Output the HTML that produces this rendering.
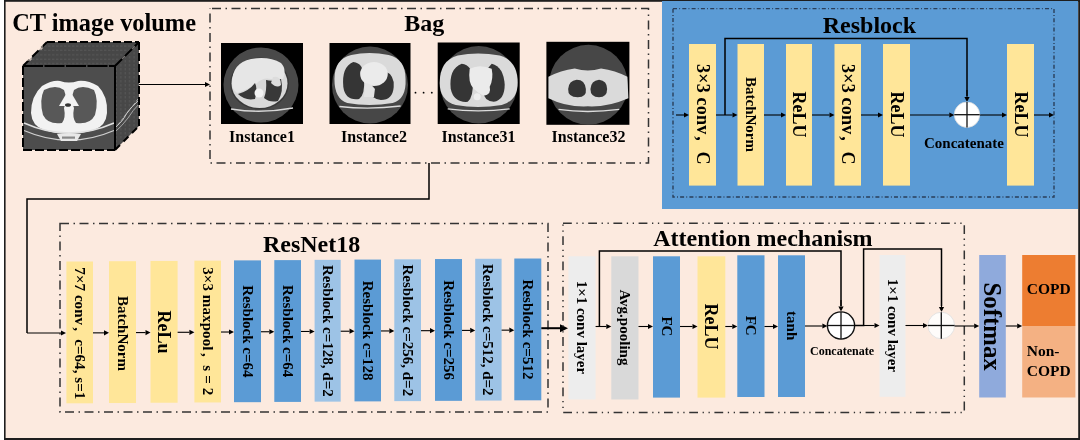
<!DOCTYPE html>
<html><head><meta charset="utf-8"><style>
html,body{margin:0;padding:0;background:#fff;width:1080px;height:440px;overflow:hidden;}
svg{display:block;will-change:transform;}
text{font-family:"Liberation Serif", serif;font-weight:bold;}
</style></head><body>
<svg width="1080" height="440" viewBox="0 0 1080 440" font-family='"Liberation Serif", serif' font-weight="bold">
<defs>
<filter id="soft" x="-5%" y="-5%" width="110%" height="110%"><feGaussianBlur stdDeviation="0.55"/></filter>
<pattern id="dots" width="4" height="4.4" patternUnits="userSpaceOnUse"><rect width="4" height="4.4" fill="#474747"/><rect x="0" y="1.5" width="2.4" height="1" fill="#575757"/></pattern>
<pattern id="dots2" width="4.4" height="4" patternUnits="userSpaceOnUse"><rect width="4.4" height="4" fill="#474747"/><rect x="1.5" y="0" width="1" height="2.4" fill="#575757"/></pattern>
</defs>
<rect x="0" y="0" width="1080.00" height="440.00" fill="#ffffff" />
<rect x="4" y="0" width="1076.00" height="440.00" fill="#1e1e1e" />
<rect x="5.6" y="1.8" width="1072.60" height="436.20" fill="#FCEADF" />
<text x="12.2" y="31.4" font-size="24.4" text-anchor="start" fill="#000" >CT image volume</text>
<polygon points="23,66 47,42 139,42 115,66" fill="url(#dots)"/>
<polygon points="115,66 139,42 139,126 115,150" fill="url(#dots2)"/>
<rect x="23" y="66" width="92.00" height="84.00" fill="#4d4d4d" />
<path d="M31,113 Q31,96 42,86 Q52,80 60,81 Q69,84 78,81 Q88,80 98,86 Q108,96 107,113 Q106,126 94,130 Q80,134 69,134 Q56,134 44,130 Q32,126 31,113 Z" fill="#f2f2f2"/>
<path d="M44,90 Q56,84 64,90 Q68,100 64,108 Q66,118 62,123 Q48,125 43,115 Q39,100 44,90 Z" fill="#585858"/>
<path d="M94,90 Q82,84 74,90 Q70,100 74,108 Q72,118 76,123 Q90,125 95,115 Q99,100 94,90 Z" fill="#585858"/>
<path d="M69,89 L79,106 L59,106 Z" fill="#f2f2f2"/>
<ellipse cx="68" cy="105" rx="3" ry="1.8" fill="#333"/>
<path d="M24,123 Q69,143 114,123" stroke="#e0e0e0" stroke-width="1.6" fill="none"/>
<path d="M24,130.5 Q69,150 114,130.5" stroke="#cfcfcf" stroke-width="1.3" fill="none"/>
<path d="M57,134 L81,134 L77,141 L61,141 Z" fill="#e8e8e8"/>
<rect x="62" y="136.5" width="13" height="2.2" fill="#888"/>
<path d="M115,128 Q124,120 127,113 Q131,107 139,100" stroke="#d8d8d8" stroke-width="0.9" fill="none"/>
<path d="M115,132 Q122,126 128,118 Q133,110 139,104" stroke="#bdbdbd" stroke-width="0.8" fill="none"/>
<path d="M118,125 Q126,114 131,108 Q135,104 139,97" stroke="#cfcfcf" stroke-width="0.8" fill="none" stroke-dasharray="3 2"/>
<line x1="47" y1="42" x2="139" y2="42" stroke="#000" stroke-width="2" stroke-dasharray="8 3"/>
<line x1="139" y1="42" x2="139" y2="126" stroke="#000" stroke-width="2" stroke-dasharray="8 3"/>
<line x1="23" y1="66" x2="47" y2="42" stroke="#000" stroke-width="2" stroke-dasharray="9 4"/>
<polyline points="27,60 31,60 31,56" fill="none" stroke="#fbe9dc" stroke-width="0.9"/>
<polyline points="38,49 42,49 42,45" fill="none" stroke="#fbe9dc" stroke-width="0.9"/>
<line x1="115" y1="150" x2="139" y2="126" stroke="#000" stroke-width="2" stroke-dasharray="7 5"/>
<line x1="115" y1="66" x2="139" y2="42" stroke="#000" stroke-width="2" stroke-dasharray="10 4"/>
<line x1="23" y1="66" x2="115" y2="66" stroke="#000" stroke-width="2.2" stroke-dasharray="20 1.5"/>
<line x1="23" y1="66" x2="23" y2="150" stroke="#000" stroke-width="2" stroke-dasharray="9 3"/>
<line x1="23" y1="150" x2="115" y2="150" stroke="#000" stroke-width="2" stroke-dasharray="9 3"/>
<line x1="115" y1="66" x2="115" y2="150" stroke="#000" stroke-width="2"/>
<line x1="139" y1="84.5" x2="205.00" y2="84.50" stroke="#000" stroke-width="1.1"/>
<polygon points="210,84.5 205.00,87.10 205.00,81.90" fill="#000"/>
<rect x="210" y="8.5" width="438.50" height="154.50" fill="none" stroke="#333333" stroke-width="1.5" stroke-dasharray="9 4.5 1.5 4.5" stroke-dashoffset="17.5"/>
<text x="424.3" y="31.3" font-size="24" text-anchor="middle" fill="#000" >Bag</text>
<g transform="translate(221,43) scale(1.0000,1.0000)">
<rect x="0" y="0" width="82" height="81" fill="#000"/>
<g filter="url(#soft)">
<circle cx="40" cy="42" r="37.5" fill="#4a4a4a"/>
<ellipse cx="38.5" cy="40.5" rx="29.5" ry="26" fill="#393939"/>
<ellipse cx="38.5" cy="40.5" rx="28" ry="24.5" fill="#d8d8d8"/>
<path d="M11,40 Q11,20 30,16 Q48,13 60,20 Q66,26 62,36 L50,36 Q42,34 36,40 Q28,46 16,50 Q11,46 11,40 Z" fill="#e6e6e6"/>
<path d="M17,51 Q28,48 34,40 Q37,46 34,56 Q24,58 17,51 Z" fill="#383838"/>
<path d="M45,37 Q52,39 60,36 Q63,48 57,58 Q49,60 43,55 Q46,48 45,37 Z" fill="#383838"/>
<path d="M52,34 Q60,32 60,42 Q56,46 50,40 Z" fill="#dcdcdc"/>
<circle cx="38" cy="50" r="4.5" fill="#f2f2f2"/>
<path d="M10,66 Q40,71 72,65" stroke="#d8d8d8" stroke-width="1.3" fill="none"/>
</g></g>
<g transform="translate(329.5,43) scale(0.9878,1.0000)">
<rect x="0" y="0" width="82" height="81" fill="#000"/>
<g filter="url(#soft)">
<circle cx="41" cy="42" r="38.5" fill="#474747"/>
<path d="M5,36 Q5,16 22,12 Q40,8 60,12 Q77,16 77,36 Q78,56 64,60 Q40,64 18,60 Q5,56 5,36 Z" fill="#dadada"/>
<path d="M24,19 Q35,20 35,36 Q36,52 30,56 Q16,58 14,44 Q12,24 24,19 Z" fill="#353535"/>
<path d="M56,28 Q66,32 65,44 Q64,57 52,57 Q42,56 41,48 Q44,36 56,28 Z" fill="#353535"/>
<ellipse cx="45" cy="31" rx="14" ry="12" fill="#ebebeb"/>
<path d="M36,40 Q42,40 46,46 L45,54 L35,54 Z" fill="#e4e4e4"/>
<path d="M10,63.5 Q40,67 72,63" stroke="#dcdcdc" stroke-width="1.3" fill="none"/>
</g></g>
<g transform="translate(437.7,42.5) scale(1.0000,1.0062)">
<rect x="0" y="0" width="82" height="81" fill="#000"/>
<g filter="url(#soft)">
<circle cx="41" cy="42" r="38.5" fill="#474747"/>
<path d="M2,40 Q2,18 20,13 Q40,9 62,13 Q80,18 80,40 Q80,58 64,62 Q40,66 18,62 Q2,58 2,40 Z" fill="#dadada"/>
<path d="M24,21 Q35,22 35,38 Q36,54 30,59 Q16,60 13,46 Q11,26 24,21 Z" fill="#353535"/>
<path d="M54,21 Q66,24 67,42 Q67,57 56,59 Q46,58 45,48 Q44,30 54,21 Z" fill="#353535"/>
<path d="M32,26 Q42,21 54,26 Q56,36 52,44 Q54,52 46,53 Q40,50 36,46 Q30,40 32,26 Z" fill="#ebebeb"/>
<circle cx="39.5" cy="54" r="3.5" fill="#eeeeee"/>
<path d="M10,66 Q40,70 72,66" stroke="#dcdcdc" stroke-width="1.3" fill="none"/>
</g></g>
<g transform="translate(546.4,41.8) scale(1.0122,1.0247)">
<rect x="0" y="0" width="82" height="81" fill="#000"/>
<g filter="url(#soft)">
<circle cx="41.5" cy="42" r="39" fill="#474747"/>
<path d="M2,34 Q14,28 28,26 Q41,30 54,26 Q68,28 80,34 L81,55 Q60,64 41,63 Q20,64 2,55 Z" fill="#dadada"/>
<path d="M30,37 Q38,37 39,46 Q40,54 31,54 Q21,54 21.5,46 Q22,38 30,37 Z" fill="#353535"/>
<path d="M52,37 Q60,38 60,46 Q60,54 52,54 Q43.5,54 43.5,46 Q44,38 52,37 Z" fill="#353535"/>
<path d="M12,66 Q40,70 72,66" stroke="#dcdcdc" stroke-width="1.3" fill="none"/>
</g></g>
<text x="262" y="141.8" font-size="16" text-anchor="middle" fill="#000" >Instance1</text>
<text x="374" y="141.8" font-size="16" text-anchor="middle" fill="#000" >Instance2</text>
<text x="478.5" y="141.8" font-size="16" text-anchor="middle" fill="#000" >Instance31</text>
<text x="588.5" y="141.8" font-size="16" text-anchor="middle" fill="#000" >Instance32</text>
<circle cx="415.5" cy="92.7" r="0.9" fill="#000"/>
<circle cx="423.6" cy="92.7" r="0.9" fill="#000"/>
<circle cx="431.8" cy="92.7" r="0.9" fill="#000"/>
<polyline points="429,163 429,199 27,199 27,333" fill="none" stroke="#000" stroke-width="1.5"/>
<line x1="27" y1="333" x2="61.00" y2="333.00" stroke="#000" stroke-width="1.1"/>
<polygon points="66,333 61.00,335.60 61.00,330.40" fill="#000"/>
<rect x="662" y="1" width="416.00" height="208.00" fill="#5B9BD5" />
<rect x="673" y="8.6" width="381.00" height="188.40" fill="none" stroke="#2a3f5a" stroke-width="1.4" stroke-dasharray="4 2.2 0.9 2.2" stroke-dashoffset="0"/>
<text x="869.4" y="33.3" font-size="24" text-anchor="middle" fill="#000" >Resblock</text>
<rect x="689" y="44" width="27.00" height="141.60" fill="#FFE699" />
<rect x="737.5" y="44" width="26.50" height="141.60" fill="#FFE699" />
<rect x="786" y="44" width="26.00" height="141.60" fill="#FFE699" />
<rect x="834.5" y="44" width="26.50" height="141.60" fill="#FFE699" />
<rect x="883" y="44" width="27.00" height="141.60" fill="#FFE699" />
<rect x="1007" y="44" width="27.00" height="141.60" fill="#FFE699" />
<text transform="translate(702.5,114.3) rotate(90)" font-size="18" text-anchor="middle" dominant-baseline="central" textLength="100.5" lengthAdjust="spacing">3×3 conv<tspan dx="3">,</tspan><tspan dx="10.5">C</tspan></text>
<text transform="translate(750.75,114.5) rotate(90)" x="0" y="0" font-size="15" text-anchor="middle" dominant-baseline="central" fill="#000">BatchNorm</text>
<text transform="translate(799.0,114.5) rotate(90)" x="0" y="0" font-size="18" text-anchor="middle" dominant-baseline="central" fill="#000">ReLU</text>
<text transform="translate(847.75,114.3) rotate(90)" font-size="18" text-anchor="middle" dominant-baseline="central" textLength="100.5" lengthAdjust="spacing">3×3 conv<tspan dx="3">,</tspan><tspan dx="10.5">C</tspan></text>
<text transform="translate(896.5,114.5) rotate(90)" x="0" y="0" font-size="18" text-anchor="middle" dominant-baseline="central" fill="#000">ReLU</text>
<text transform="translate(1020.5,114.5) rotate(90)" x="0" y="0" font-size="18" text-anchor="middle" dominant-baseline="central" fill="#000">ReLU</text>
<line x1="676" y1="115" x2="684.00" y2="115.00" stroke="#000" stroke-width="1.1"/>
<polygon points="689,115 684.00,117.60 684.00,112.40" fill="#000"/>
<line x1="716" y1="115" x2="732.50" y2="115.00" stroke="#000" stroke-width="1.1"/>
<polygon points="737.5,115 732.50,117.60 732.50,112.40" fill="#000"/>
<line x1="764" y1="115" x2="781.00" y2="115.00" stroke="#000" stroke-width="1.1"/>
<polygon points="786,115 781.00,117.60 781.00,112.40" fill="#000"/>
<line x1="812" y1="115" x2="829.50" y2="115.00" stroke="#000" stroke-width="1.1"/>
<polygon points="834.5,115 829.50,117.60 829.50,112.40" fill="#000"/>
<line x1="861" y1="115" x2="878.00" y2="115.00" stroke="#000" stroke-width="1.1"/>
<polygon points="883,115 878.00,117.60 878.00,112.40" fill="#000"/>
<line x1="910" y1="115" x2="949.30" y2="115.00" stroke="#000" stroke-width="1.1"/>
<polygon points="954.3,115 949.30,117.60 949.30,112.40" fill="#000"/>
<line x1="980" y1="115" x2="1002.00" y2="115.00" stroke="#000" stroke-width="1.1"/>
<polygon points="1007,115 1002.00,117.60 1002.00,112.40" fill="#000"/>
<line x1="1034" y1="115" x2="1049.00" y2="115.00" stroke="#000" stroke-width="1.1"/>
<polygon points="1054,115 1049.00,117.60 1049.00,112.40" fill="#000"/>
<polyline points="725,115 725,38.4 967,38.4 967,96" fill="none" stroke="#000" stroke-width="1.5"/>
<line x1="967" y1="90" x2="967.00" y2="97.00" stroke="#000" stroke-width="1.1"/>
<polygon points="967,102 964.40,97.00 969.60,97.00" fill="#000"/>
<circle cx="967" cy="114.7" r="12.7" fill="#fff" stroke="#ddd" stroke-width="0.8"/>
<line x1="954.3" y1="114.7" x2="979.7" y2="114.7" stroke="#111" stroke-width="1.3"/>
<line x1="967" y1="102.0" x2="967" y2="127.4" stroke="#111" stroke-width="1.3"/>
<text x="964" y="148" font-size="15" text-anchor="middle" fill="#000" >Concatenate</text>
<rect x="60" y="223.5" width="488.00" height="188.50" fill="none" stroke="#333333" stroke-width="1.5" stroke-dasharray="9 4.5 1.5 4.5" stroke-dashoffset="0"/>
<text x="311.6" y="251.7" font-size="24" text-anchor="middle" fill="#000" >ResNet18</text>
<rect x="66.4" y="261.502" width="26.60" height="141.80" fill="#FFE699" />
<rect x="109" y="261.21666666666664" width="27.00" height="141.80" fill="#FFE699" />
<rect x="150.5" y="260.93966666666665" width="27.10" height="141.80" fill="#FFE699" />
<rect x="194.4" y="260.64866666666666" width="26.60" height="141.80" fill="#FFE699" />
<rect x="234" y="260.3833333333333" width="27.00" height="141.80" fill="#5B9BD5" />
<rect x="274.3" y="260.11566666666664" width="26.70" height="141.80" fill="#5B9BD5" />
<rect x="314.6" y="259.849" width="26.10" height="141.80" fill="#9DC3E6" />
<rect x="354.5" y="259.58166666666665" width="26.50" height="141.80" fill="#5B9BD5" />
<rect x="394.3" y="259.3156666666667" width="26.70" height="141.80" fill="#9DC3E6" />
<rect x="435" y="259.04333333333335" width="27.00" height="141.80" fill="#5B9BD5" />
<rect x="475.2" y="258.77733333333333" width="26.40" height="141.80" fill="#9DC3E6" />
<rect x="514.3" y="258.51466666666664" width="27.00" height="141.80" fill="#5B9BD5" />
<text transform="translate(79.7,333.30) rotate(90)" font-size="15" text-anchor="middle" dominant-baseline="central" textLength="132" lengthAdjust="spacing">7×7 conv<tspan dx="3">,</tspan><tspan dx="8">c=64, s=1</tspan></text>
<text transform="translate(122.5,333.41666666666663) rotate(90)" x="0" y="0" font-size="15" text-anchor="middle" dominant-baseline="central" fill="#000">BatchNorm</text>
<text transform="translate(164.05,331.93966666666665) rotate(90)" x="0" y="0" font-size="18" text-anchor="middle" dominant-baseline="central" fill="#000">ReLu</text>
<text transform="translate(207.7,331.15) rotate(90)" font-size="15" text-anchor="middle" dominant-baseline="central" textLength="128" lengthAdjust="spacing">3×3 maxpool<tspan dx="2.5">,</tspan><tspan dx="8.5">s = 2</tspan></text>
<text transform="translate(247.5,331.3833333333333) rotate(90)" x="0" y="0" font-size="15" text-anchor="middle" dominant-baseline="central" fill="#000">Resblock c=64</text>
<text transform="translate(287.65,331.11566666666664) rotate(90)" x="0" y="0" font-size="15" text-anchor="middle" dominant-baseline="central" fill="#000">Resblock c=64</text>
<text transform="translate(327.65,330.849) rotate(90)" x="0" y="0" font-size="15" text-anchor="middle" dominant-baseline="central" fill="#000">Resblock c=128, d=2</text>
<text transform="translate(367.75,330.58166666666665) rotate(90)" x="0" y="0" font-size="15" text-anchor="middle" dominant-baseline="central" fill="#000">Resblock c=128</text>
<text transform="translate(407.65,330.3156666666667) rotate(90)" x="0" y="0" font-size="15" text-anchor="middle" dominant-baseline="central" fill="#000">Resblock c=256, d=2</text>
<text transform="translate(448.5,330.04333333333335) rotate(90)" x="0" y="0" font-size="15" text-anchor="middle" dominant-baseline="central" fill="#000">Resblock c=256</text>
<text transform="translate(488.4,329.77733333333333) rotate(90)" x="0" y="0" font-size="15" text-anchor="middle" dominant-baseline="central" fill="#000">Resblock c=512, d=2</text>
<text transform="translate(527.8,329.51466666666664) rotate(90)" x="0" y="0" font-size="15" text-anchor="middle" dominant-baseline="central" fill="#000">Resblock c=512</text>
<line x1="93" y1="332.86" x2="104.00" y2="332.86" stroke="#000" stroke-width="1.1"/>
<polygon points="109,332.86 104.00,335.46 104.00,330.26" fill="#000"/>
<line x1="136" y1="332.58" x2="145.50" y2="332.58" stroke="#000" stroke-width="1.1"/>
<polygon points="150.5,332.58 145.50,335.18 145.50,329.98" fill="#000"/>
<line x1="177.6" y1="332.29" x2="189.40" y2="332.29" stroke="#000" stroke-width="1.1"/>
<polygon points="194.4,332.29 189.40,334.89 189.40,329.69" fill="#000"/>
<line x1="221" y1="332.02" x2="229.00" y2="332.02" stroke="#000" stroke-width="1.1"/>
<polygon points="234,332.02 229.00,334.62 229.00,329.42" fill="#000"/>
<line x1="261" y1="331.75" x2="269.30" y2="331.75" stroke="#000" stroke-width="1.1"/>
<polygon points="274.3,331.75 269.30,334.35 269.30,329.15" fill="#000"/>
<line x1="301" y1="331.48" x2="309.60" y2="331.48" stroke="#000" stroke-width="1.1"/>
<polygon points="314.6,331.48 309.60,334.08 309.60,328.88" fill="#000"/>
<line x1="340.7" y1="331.22" x2="349.50" y2="331.22" stroke="#000" stroke-width="1.1"/>
<polygon points="354.5,331.22 349.50,333.82 349.50,328.62" fill="#000"/>
<line x1="381" y1="330.95" x2="389.30" y2="330.95" stroke="#000" stroke-width="1.1"/>
<polygon points="394.3,330.95 389.30,333.55 389.30,328.35" fill="#000"/>
<line x1="421" y1="330.68" x2="430.00" y2="330.68" stroke="#000" stroke-width="1.1"/>
<polygon points="435,330.68 430.00,333.28 430.00,328.08" fill="#000"/>
<line x1="462" y1="330.41" x2="470.20" y2="330.41" stroke="#000" stroke-width="1.1"/>
<polygon points="475.2,330.41 470.20,333.01 470.20,327.81" fill="#000"/>
<line x1="501.6" y1="330.15" x2="509.30" y2="330.15" stroke="#000" stroke-width="1.1"/>
<polygon points="514.3,330.15 509.30,332.75 509.30,327.55" fill="#000"/>
<line x1="541.3" y1="328.2" x2="560.00" y2="328.20" stroke="#000" stroke-width="2"/>
<polygon points="568,328.2 560.00,332.20 560.00,324.20" fill="#000"/>
<rect x="563" y="223.3" width="401.30" height="189.20" fill="none" stroke="#333333" stroke-width="1.5" stroke-dasharray="8.8 4.6 1.3 4.6 1.3 4.6" stroke-dashoffset="0"/>
<text x="762.9" y="246.2" font-size="24" text-anchor="middle" fill="#000" >Attention mechanism</text>
<rect x="568.4" y="256.3" width="27.20" height="143.20" fill="#EDEDED" />
<rect x="611.3" y="256.3" width="27.20" height="143.20" fill="#D9D9D9" />
<rect x="653" y="256.3" width="27.00" height="141.30" fill="#5B9BD5" />
<rect x="697.5" y="256.3" width="27.80" height="141.30" fill="#FFE699" />
<rect x="737.3" y="255.3" width="27.20" height="141.70" fill="#5B9BD5" />
<rect x="778" y="255.3" width="27.00" height="141.70" fill="#5B9BD5" />
<rect x="879.5" y="255" width="26.00" height="141.80" fill="#EDEDED" />
<text transform="translate(582.0,327.4) rotate(90)" x="0" y="0" font-size="15" text-anchor="middle" dominant-baseline="central" fill="#000">1×1 conv layer</text>
<text transform="translate(624.9,327.4) rotate(90)" x="0" y="0" font-size="15" text-anchor="middle" dominant-baseline="central" fill="#000">Avg.pooling</text>
<text transform="translate(666.5,326.45000000000005) rotate(90)" x="0" y="0" font-size="15" text-anchor="middle" dominant-baseline="central" fill="#000">FC</text>
<text transform="translate(711.4,326.45000000000005) rotate(90)" x="0" y="0" font-size="18" text-anchor="middle" dominant-baseline="central" fill="#000">ReLU</text>
<text transform="translate(750.9,325.65) rotate(90)" x="0" y="0" font-size="15" text-anchor="middle" dominant-baseline="central" fill="#000">FC</text>
<text transform="translate(791.5,325.65) rotate(90)" x="0" y="0" font-size="15" text-anchor="middle" dominant-baseline="central" fill="#000">tanh</text>
<text transform="translate(892.5,325.4) rotate(90)" x="0" y="0" font-size="15" text-anchor="middle" dominant-baseline="central" fill="#000">1×1 conv layer</text>
<line x1="595.6" y1="326.5" x2="606.30" y2="326.50" stroke="#000" stroke-width="1.1"/>
<polygon points="611.3,326.5 606.30,329.10 606.30,323.90" fill="#000"/>
<line x1="638.5" y1="326.5" x2="648.00" y2="326.50" stroke="#000" stroke-width="1.1"/>
<polygon points="653,326.5 648.00,329.10 648.00,323.90" fill="#000"/>
<line x1="680" y1="326.5" x2="692.50" y2="326.50" stroke="#000" stroke-width="1.1"/>
<polygon points="697.5,326.5 692.50,329.10 692.50,323.90" fill="#000"/>
<line x1="725.3" y1="326.5" x2="732.30" y2="326.50" stroke="#000" stroke-width="1.1"/>
<polygon points="737.3,326.5 732.30,329.10 732.30,323.90" fill="#000"/>
<line x1="764.5" y1="326.5" x2="773.00" y2="326.50" stroke="#000" stroke-width="1.1"/>
<polygon points="778,326.5 773.00,329.10 773.00,323.90" fill="#000"/>
<line x1="805" y1="326" x2="822.40" y2="326.00" stroke="#000" stroke-width="1.1"/>
<polygon points="827.4,326 822.40,328.60 822.40,323.40" fill="#000"/>
<polyline points="599.4,326.5 599.4,251 841,251 841,306" fill="none" stroke="#000" stroke-width="1.5"/>
<line x1="841" y1="300" x2="841.00" y2="306.50" stroke="#000" stroke-width="1.1"/>
<polygon points="841,311.5 838.40,306.50 843.60,306.50" fill="#000"/>
<circle cx="841" cy="325.5" r="13.6" fill="#fff" stroke="#111" stroke-width="1.4"/>
<line x1="827.4" y1="325.5" x2="854.6" y2="325.5" stroke="#111" stroke-width="1.3"/>
<line x1="841" y1="311.9" x2="841" y2="339.1" stroke="#111" stroke-width="1.3"/>
<text x="842" y="354.5" font-size="12" text-anchor="middle" fill="#000" >Concatenate</text>
<polyline points="854.6,325.5 863.6,325.5 863.6,249 941.5,249 941.5,306" fill="none" stroke="#000" stroke-width="1.5"/>
<line x1="941.5" y1="300" x2="941.50" y2="307.00" stroke="#000" stroke-width="1.1"/>
<polygon points="941.5,312 938.90,307.00 944.10,307.00" fill="#000"/>
<line x1="863.6" y1="325.5" x2="874.50" y2="325.50" stroke="#000" stroke-width="1.1"/>
<polygon points="879.5,325.5 874.50,328.10 874.50,322.90" fill="#000"/>
<line x1="905.5" y1="325.5" x2="923.00" y2="325.50" stroke="#000" stroke-width="1.1"/>
<polygon points="928,325.5 923.00,328.10 923.00,322.90" fill="#000"/>
<circle cx="941.3" cy="325.5" r="13.3" fill="#fefcfa" stroke="#ddd" stroke-width="0.8"/>
<line x1="928.0" y1="325.5" x2="954.5999999999999" y2="325.5" stroke="#111" stroke-width="1.3"/>
<line x1="941.3" y1="312.2" x2="941.3" y2="338.8" stroke="#111" stroke-width="1.3"/>
<line x1="954.6" y1="326" x2="974.20" y2="326.00" stroke="#000" stroke-width="1.1"/>
<polygon points="979.2,326 974.20,328.60 974.20,323.40" fill="#000"/>
<rect x="979.2" y="255" width="26.60" height="142.50" fill="#8FAADC" />
<text transform="translate(992.8,326.6) rotate(90)" x="0" y="0" font-size="24.8" text-anchor="middle" dominant-baseline="central" fill="#000">Softmax</text>
<line x1="1005.8" y1="326" x2="1017.20" y2="326.00" stroke="#000" stroke-width="1.1"/>
<polygon points="1022.2,326 1017.20,328.60 1017.20,323.40" fill="#000"/>
<rect x="1022.2" y="255" width="53.20" height="71.00" fill="#ED7D31" />
<rect x="1022.2" y="326" width="53.20" height="71.50" fill="#F4B183" />
<text x="1026.7" y="293.8" font-size="15.5" text-anchor="start" fill="#000" >COPD</text>
<text x="1026.7" y="355.8" font-size="15.5" text-anchor="start" fill="#000" >Non-</text>
<text x="1026.7" y="375.8" font-size="15.5" text-anchor="start" fill="#000" >COPD</text>
</svg>
</body></html>
